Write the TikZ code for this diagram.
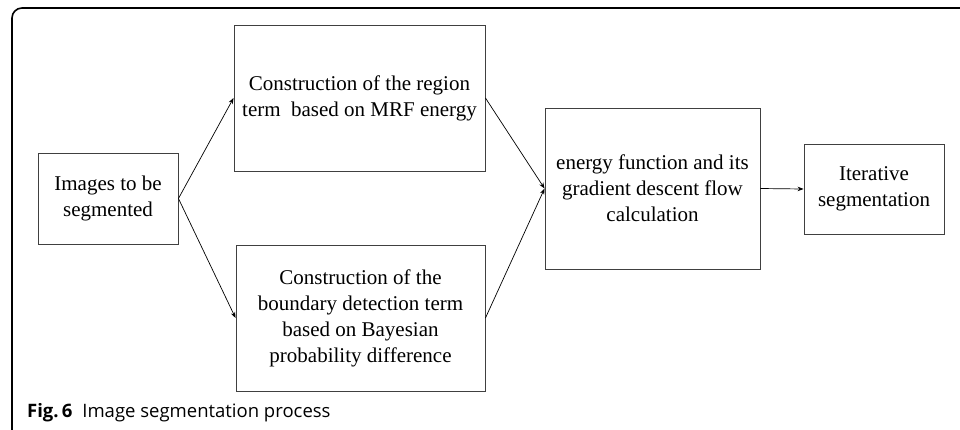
\documentclass[tikz,border=0pt]{standalone}
\usepackage{fontspec}
\setmainfont{Liberation Serif}
\newfontfamily\capfont{Open Sans}
\usetikzlibrary{arrows.meta}
\begin{document}
\begin{tikzpicture}[x=1pt,y=-1pt,
  procbox/.style={draw=black!75,line width=0.9pt,align=center,inner sep=0pt,
    font=\fontsize{21}{26}\selectfont},
  flow/.style={draw=black,line width=0.7pt,-{Stealth[length=6pt,width=4.5pt]}}]
\useasboundingbox (0,0) rectangle (960,429);
\draw[line width=1.6pt,rounded corners=10pt] (12,432) -- (12,8) -- (962,8);
\node[procbox,minimum width=140pt,minimum height=91pt] (b1) at (108,198.5)
  {Images to be\\segmented};
\node[procbox,minimum width=251pt,minimum height=146pt] (b2) at (359.5,98)
  {Construction of the region\\term\ \ based on MRF energy};
\node[procbox,minimum width=249pt,minimum height=146pt] (b3) at (360.5,318)
  {Construction of the\\boundary detection term\\based on Bayesian\\probability difference};
\node[procbox,minimum width=215pt,minimum height=161pt] (b4) at (652.5,188.5)
  {energy function and its\\gradient descent flow\\calculation};
\node[procbox,minimum width=140pt,minimum height=90pt] (b5) at (874,189)
  {Iterative\\segmentation};
\draw[flow] (b1.east) -- (b2.west);
\draw[flow] (b1.east) -- (b3.west);
\draw[flow] (b2.east) -- (b4.west);
\draw[flow] (b3.east) -- (b4.west);
\draw[flow] (b4.east) -- (b5.west);
\node[anchor=base west,inner sep=0pt,font=\capfont\fontsize{18.5}{22}\selectfont] (cap) at (27,417)
  {\textbf{Fig.\,6}\hspace{10pt}Image segmentation process};
\end{tikzpicture}
\end{document}
